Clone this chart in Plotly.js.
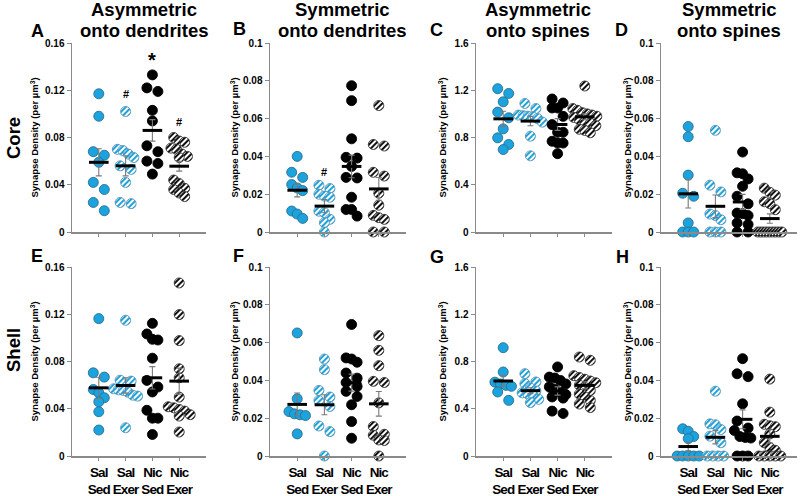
<!DOCTYPE html>
<html><head><meta charset="utf-8">
<script src="https://cdn.plot.ly/plotly-3.0.1.min.js"></script>
<style>
html,body{margin:0;padding:0;background:#fff}#chart{width:800px;height:496px}
g.x5tick text, g.x6tick text, g.x7tick text, g.x8tick text{letter-spacing:-0.9px}
</style>
</head><body><div id="chart"></div>
<script>
// ---------- DATA ----------
const groupLabels = ['Sal<br>Sed', 'Sal<br>Exer', 'Nic<br>Sed', 'Nic<br>Exer'];
const panelLetters = ['A','B','C','D','E','F','G','H'];
const colTitles = [['Asymmetric','onto dendrites'],['Symmetric','onto dendrites'],['Asymmetric','onto spines'],['Symmetric','onto spines']];
const rowLabels = ['Core','Shell'];
const yTitle = 'Synapse Density (per µm<sup>3</sup>)';

// Panel A – Core, asymmetric onto dendrites
const A_salSed  = [0.117, 0.098, 0.068, 0.065, 0.059, 0.042, 0.036, 0.025, 0.018];
const A_salExer = [0.102, 0.070, 0.069, 0.066, 0.063, 0.056, 0.053, 0.042, 0.025, 0.024];
const A_nicSed  = [0.133, 0.122, 0.119, 0.103, 0.094, 0.073, 0.068, 0.060, 0.058, 0.049];
const A_nicExer = [0.080, 0.077, 0.076, 0.071, 0.070, 0.066, 0.064, 0.063, 0.044, 0.041, 0.037, 0.036, 0.033, 0.030];
const A_mean = [0.059, 0.056, 0.086, 0.0557];
const A_sem  = [0.0115, 0.0085, 0.0091, 0.0042];
// Panel B – Core, symmetric onto dendrites
const B_salSed  = [0.040, 0.0316, 0.0289, 0.0251, 0.0233, 0.0219, 0.0111, 0.0095, 0.0072];
const B_salExer = [0.0247, 0.0230, 0.0200, 0.0190, 0.0184, 0.0110, 0.0102, 0.0067, 0.0049, 0.0];
const B_nicSed  = [0.0774, 0.0695, 0.0493, 0.0395, 0.0391, 0.0347, 0.0289, 0.0286, 0.0184, 0.0119, 0.0119, 0.0084];
const B_nicExer = [0.0669, 0.0463, 0.0455, 0.0316, 0.0296, 0.0205, 0.0142, 0.0088, 0.0076, 0.0067, 0, 0];
const B_mean = [0.0221, 0.0137, 0.0347, 0.0228];
const B_sem  = [0.0035, 0.0035, 0.006, 0.006];
// Panel C – Core, asymmetric onto spines
const C_salSed  = [1.213, 1.173, 1.102, 1.015, 0.967, 0.873, 0.797, 0.741, 0.698];
const C_salExer = [1.088, 1.045, 0.99, 0.985, 0.98, 0.975, 0.96, 0.93, 0.811, 0.645];
const C_nicSed  = [1.126, 1.092, 1.05, 1.05, 0.979, 0.909, 0.844, 0.844, 0.768, 0.753, 0.753, 0.663];
const C_nicExer = [1.236, 1.045, 1.03, 1.01, 1.0, 0.99, 0.98, 0.97, 0.95, 0.93, 0.92, 0.90, 0.87, 0.86, 0.84];
const C_mean = [0.958, 0.939, 0.91, 0.975];
const C_sem  = [0.064, 0.04, 0.05, 0.025];
// Panel D – Core, symmetric onto spines
const D_salSed  = [0.0558, 0.0504, 0.0301, 0.0205, 0.0189, 0.0048, 0, 0, 0];
const D_salExer = [0.0538, 0.0248, 0.0212, 0.0095, 0.0087, 0.0065, 0, 0, 0];
const D_nicSed  = [0.0423, 0.0313, 0.0308, 0.0281, 0.0242, 0.0189, 0.0149, 0.0100, 0.0097, 0.0087, 0.0048, 0.0040, 0, 0];
const D_nicExer = [0.0232, 0.0210, 0.0195, 0.0160, 0.0150, 0.0118, 0, 0, 0, 0, 0, 0, 0, 0, 0];
const D_mean = [0.0202, 0.0136, 0.0159, 0.0071];
const D_sem  = [0.0075, 0.006, 0.004, 0.0025];
// Panel E – Shell, asymmetric onto dendrites
const E_salSed  = [0.1163, 0.0704, 0.0668, 0.0563, 0.0535, 0.0493, 0.0459, 0.0375, 0.022];
const E_salExer = [0.1149, 0.0642, 0.0634, 0.0569, 0.0560, 0.0555, 0.0540, 0.0515, 0.0507, 0.0239];
const E_nicSed  = [0.1123, 0.1033, 0.0988, 0.0982, 0.0828, 0.064, 0.0584, 0.0542, 0.0387, 0.032, 0.032, 0.0182];
const E_nicExer = [0.1465, 0.1197, 0.0977, 0.0738, 0.0662, 0.0499, 0.0417, 0.0408, 0.0394, 0.0380, 0.0350, 0.0338, 0.0203];
const E_mean = [0.0577, 0.0597, 0.0662, 0.0634];
const E_sem  = [0.009, 0.0065, 0.0095, 0.011];
// Panel F – Shell, symmetric onto dendrites
const F_salSed  = [0.0651, 0.0303, 0.0235, 0.0223, 0.0218, 0.0214, 0.0117];
const F_salExer = [0.0513, 0.0457, 0.0347, 0.0312, 0.0294, 0.0262, 0.0159, 0.0129, 0];
const F_nicSed  = [0.0696, 0.0519, 0.0513, 0.0496, 0.0439, 0.0412, 0.0389, 0.0368, 0.0342, 0.0315, 0.0271, 0.0182, 0.0094];
const F_nicExer = [0.0637, 0.0559, 0.0478, 0.0395, 0.0389, 0.0281, 0.0156, 0.0115, 0.0110, 0.0085, 0.0082, 0];
const F_mean = [0.0273, 0.0271, 0.0388, 0.0276];
const F_sem  = [0.006, 0.0053, 0.0045, 0.0065];
// Panel G – Shell, asymmetric onto spines
const G_salSed  = [0.917, 0.711, 0.625, 0.610, 0.598, 0.590, 0.542, 0.471];
const G_salExer = [0.697, 0.627, 0.613, 0.575, 0.55, 0.535, 0.525, 0.510, 0.480, 0.452];
const G_nicSed  = [0.754, 0.668, 0.66, 0.64, 0.61, 0.585, 0.565, 0.54, 0.52, 0.50, 0.49, 0.38, 0.36];
const G_nicExer = [0.838, 0.81, 0.68, 0.665, 0.65, 0.635, 0.62, 0.60, 0.58, 0.555, 0.525, 0.50, 0.47, 0.44, 0.41];
const G_mean = [0.635, 0.553, 0.55, 0.598];
const G_sem  = [0.045, 0.025, 0.035, 0.03];
// Panel H – Shell, symmetric onto spines
const H_salSed  = [0.0144, 0.0131, 0.0103, 0.0092, 0, 0, 0, 0, 0];
const H_salExer = [0.0343, 0.0170, 0.0165, 0.0140, 0.0105, 0.0070, 0, 0, 0, 0];
const H_nicSed  = [0.0515, 0.0435, 0.042, 0.0276, 0.0185, 0.0148, 0.0135, 0.0103, 0.0098, 0.0095, 0, 0, 0];
const H_nicExer = [0.0407, 0.0232, 0.0168, 0.0160, 0.0155, 0.0117, 0.0070, 0.0045, 0.0030, 0, 0, 0, 0, 0];
const H_mean = [0.005, 0.0099, 0.0194, 0.0104];
const H_sem  = [0.0022, 0.0035, 0.005, 0.0035];

// y-axis ticks
const ticks016 = [0, 0.04, 0.08, 0.12, 0.16], ticks016Text = ['0','0.04','0.08','0.12','0.16'];
const ticks01  = [0, 0.02, 0.04, 0.06, 0.08, 0.1], ticks01Text = ['0','0.02','0.04','0.06','0.08','0.1'];
const ticks16  = [0, 0.4, 0.8, 1.2, 1.6], ticks16Text = ['0','0.4','0.8','1.2','1.6'];

// significance marks
const sigPanel = [0, 0, 0, 1];
const sigGroup = [2, 1, 3, 1];
const sigY     = [0.146, 0.1165, 0.093, 0.0318];
const sigText  = ['*', '#', '#', '#'];

// ---------- BUILD ----------
const panels = [
  {g:[A_salSed,A_salExer,A_nicSed,A_nicExer], m:A_mean, s:A_sem, tv:ticks016, tt:ticks016Text, max:0.16},
  {g:[B_salSed,B_salExer,B_nicSed,B_nicExer], m:B_mean, s:B_sem, tv:ticks01, tt:ticks01Text, max:0.1},
  {g:[C_salSed,C_salExer,C_nicSed,C_nicExer], m:C_mean, s:C_sem, tv:ticks16, tt:ticks16Text, max:1.6},
  {g:[D_salSed,D_salExer,D_nicSed,D_nicExer], m:D_mean, s:D_sem, tv:ticks01, tt:ticks01Text, max:0.1},
  {g:[E_salSed,E_salExer,E_nicSed,E_nicExer], m:E_mean, s:E_sem, tv:ticks016, tt:ticks016Text, max:0.16},
  {g:[F_salSed,F_salExer,F_nicSed,F_nicExer], m:F_mean, s:F_sem, tv:ticks01, tt:ticks01Text, max:0.1},
  {g:[G_salSed,G_salExer,G_nicSed,G_nicExer], m:G_mean, s:G_sem, tv:ticks16, tt:ticks16Text, max:1.6},
  {g:[H_salSed,H_salExer,H_nicSed,H_nicExer], m:H_mean, s:H_sem, tv:ticks01, tt:ticks01Text, max:0.1}
];

const W = 800, H = 496;
const colX = [[72,206],[270,406],[476,612],[661,797]];
const rowY = [[43,232],[267,456]];
const XR = 5;
const FONT = 'Liberation Sans, Arial, sans-serif';
const AX = '#8a8a8a';
const BLUE = '#1ca2dd';
const HATCH_BLUE = 'rgb(254, 254, 253)';
const HATCH_BLACK = 'rgb(253, 254, 254)';
const groupStyle = [
  {fill: BLUE, line: '#2a6f90'},
  {fill: HATCH_BLUE, line: '#5a93b0'},
  {fill: '#000000', line: '#000000'},
  {fill: HATCH_BLACK, line: '#333333'}
];

function swarm(vals, center, pxPerX, pxPerY) {
  const idx = vals.map((v,i)=>i).sort((a,b)=>vals[b]-vals[a]);
  const xs = new Array(vals.length).fill(center);
  let i = 0;
  while (i < idx.length) {
    const bin = [idx[i]];
    const y0 = vals[idx[i]]*pxPerY;
    let j = i+1;
    while (j < idx.length && (y0 - vals[idx[j]]*pxPerY) < 8.5) { bin.push(idx[j]); j++; }
    const n = bin.length;
    let sp = n === 2 ? 11 : Math.min(5.5, 24/(n-1));
    bin.forEach((k, q) => { xs[k] = center + ((q - (n-1)/2) * sp) / pxPerX; });
    i = j;
  }
  return xs;
}

const traces = [];
const layout = {
  width: W, height: H, margin: {l:0,r:0,t:0,b:0},
  paper_bgcolor: '#fff', plot_bgcolor: 'rgba(0,0,0,0)',
  showlegend: false, annotations: []
};

panels.forEach((p, i) => {
  const row = Math.floor(i/4), col = i%4, k = i+1;
  const xs = k === 1 ? '' : String(k);
  const xr = 'x'+xs, yr = 'y'+xs;
  const [x0,x1] = colX[col], [y0,y1] = rowY[row];
  const pxPerX = (x1-x0)/XR, pxPerY = (y1-y0)/p.max;
  layout['xaxis'+xs] = {
    domain: [x0/W, x1/W], range: [0, XR], anchor: yr,
    tickvals: [1,2,3,4], ticktext: groupLabels, showticklabels: row === 1,
    tickangle: 0, automargin: false,
    tickfont: {family: FONT, size: 13.5, color: '#000', weight: 'bold'},
    ticks: 'outside', ticklen: 3, tickcolor: AX, tickwidth: 1,
    showline: true, linecolor: AX, linewidth: 1.5,
    showgrid: false, zeroline: false, fixedrange: true
  };
  layout['yaxis'+xs] = {
    domain: [1-y1/H, 1-y0/H], range: [0, p.max], anchor: xr,
    tickvals: p.tv, ticktext: p.tt, automargin: false,
    tickfont: {family: FONT, size: 10, color: '#000', weight: 'bold'},
    ticks: 'outside', ticklen: 4, tickcolor: AX, tickwidth: 1,
    showline: true, linecolor: AX, linewidth: 1.5,
    showgrid: false, zeroline: false, fixedrange: true
  };
  p.g.forEach((vals, g) => {
    const st = groupStyle[g];
    traces.push({
      type: 'scatter', mode: 'markers', xaxis: xr, yaxis: yr, cliponaxis: false,
      x: swarm(vals, g+1, pxPerX, pxPerY), y: vals,
      marker: {size: 10, color: st.fill, line: {color: st.line, width: 0.9}},
      hoverinfo: 'skip'
    });
  });
  traces.push({
    type: 'scatter', mode: 'markers', xaxis: xr, yaxis: yr, cliponaxis: false,
    x: [1,2,3,4], y: p.m,
    error_y: {type: 'data', array: p.s, visible: true, color: '#7a7a7a', thickness: 1.1, width: 3},
    marker: {symbol: 'line-ew', size: 14, color: '#000', line: {color: '#000', width: 3}},
    hoverinfo: 'skip'
  });
  const letterPos = [[37,31],[239,29],[436,30],[621,30],[37,256],[238,256],[437,257],[622,257]][i];
  layout.annotations.push({
    xref: 'paper', yref: 'paper', x: letterPos[0]/W, y: 1-letterPos[1]/H,
    xanchor: 'center', yanchor: 'middle', showarrow: false,
    text: '<b>'+panelLetters[i]+'</b>', font: {family: FONT, size: 18, color: '#000'}
  });
  const yTitleX = [34, 234, 442, 627][col];
  layout.annotations.push({
    xref: 'paper', yref: 'paper', x: yTitleX/W, y: 1-((y0+y1)/2)/H,
    xanchor: 'center', yanchor: 'middle', showarrow: false, textangle: -90,
    text: '<b>'+yTitle+'</b>', font: {family: FONT, size: 9.5, color: '#000'}
  });
});

const titleX = [144, 342, 538, 729];
colTitles.forEach((t, c) => {
  [10, 30].forEach((yy, li) => {
    layout.annotations.push({
      xref: 'paper', yref: 'paper', x: titleX[c]/W, y: 1-yy/H,
      xanchor: 'center', yanchor: 'middle', showarrow: false,
      text: '<b>'+t[li]+'</b>', font: {family: FONT, size: 18.5, color: '#000'}
    });
  });
});
[138, 350].forEach((yy, r) => {
  layout.annotations.push({
    xref: 'paper', yref: 'paper', x: 13/W, y: 1-yy/H,
    xanchor: 'center', yanchor: 'middle', showarrow: false, textangle: -90,
    text: '<b>'+rowLabels[r]+'</b>', font: {family: FONT, size: 18.5, color: '#000'}
  });
});
sigText.forEach((s, q) => {
  const k = sigPanel[q]+1, xs = k === 1 ? '' : String(k);
  layout.annotations.push({
    xref: 'x'+xs, yref: 'y'+xs, x: sigGroup[q]+1, y: sigY[q],
    xanchor: 'center', yanchor: 'middle', showarrow: false,
    text: '<b>'+s+'</b>', font: {family: FONT, size: s === '*' ? 20 : 11, color: '#000'}
  });
});

Plotly.newPlot('chart', traces, layout, {staticPlot: true, displayModeBar: false}).then(gd => {
  const ns = 'http://www.w3.org/2000/svg';
  const svg = gd.querySelector('svg.main-svg');
  let defs = svg.querySelector('defs');
  if (!defs) { defs = document.createElementNS(ns, 'defs'); svg.insertBefore(defs, svg.firstChild); }
  function mk(id, color) {
    const pat = document.createElementNS(ns, 'pattern');
    pat.setAttribute('id', id);
    pat.setAttribute('patternUnits', 'userSpaceOnUse');
    pat.setAttribute('width', '4'); pat.setAttribute('height', '4');
    pat.setAttribute('patternTransform', 'rotate(-45)');
    const r1 = document.createElementNS(ns, 'rect');
    r1.setAttribute('width', '4'); r1.setAttribute('height', '4'); r1.setAttribute('fill', '#ffffff');
    const r2 = document.createElementNS(ns, 'rect');
    r2.setAttribute('width', '4'); r2.setAttribute('height', '2'); r2.setAttribute('fill', color);
    pat.appendChild(r1); pat.appendChild(r2);
    defs.appendChild(pat);
  }
  mk('hatchBlue', BLUE);
  mk('hatchBlack', '#111111');
  gd.querySelectorAll('path.point').forEach(el => {
    const f = el.style.fill;
    if (f === HATCH_BLUE) el.style.fill = 'url(#hatchBlue)';
    else if (f === HATCH_BLACK) el.style.fill = 'url(#hatchBlack)';
  });
});
</script>
</body></html>
